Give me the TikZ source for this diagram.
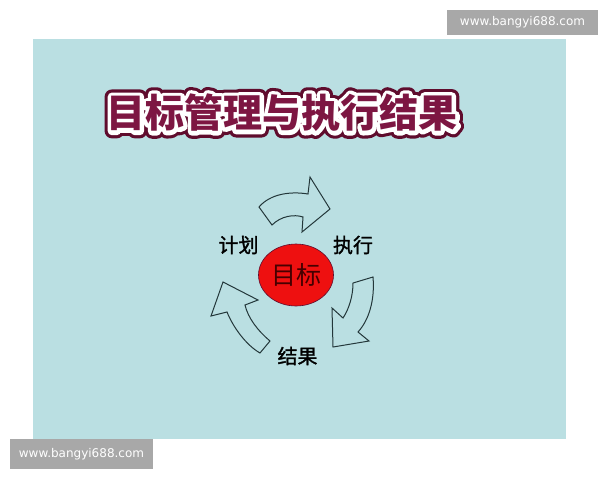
\documentclass[tikz,border=0pt]{standalone}
\usepackage{fontspec}
\usetikzlibrary{shapes.geometric,calc}
\newfontfamily\cjk{Noto Sans CJK SC}
\newfontfamily\cjklabel[FakeBold=1.5]{Noto Sans CJK SC}
\newfontfamily\cjkouter[FakeBold=38]{Noto Sans CJK SC Bold}
\newfontfamily\cjkwhite[FakeBold=22]{Noto Sans CJK SC Bold}
\newfontfamily\wmfont{DejaVu Sans}
\definecolor{bgblue}{RGB}{186,223,226}
\definecolor{maroonfill}{RGB}{125,22,66}
\definecolor{maroonline}{RGB}{95,12,45}
\definecolor{wmgray}{RGB}{168,168,168}
\definecolor{arrowline}{RGB}{35,55,58}
\definecolor{redfill}{RGB}{238,16,16}
\definecolor{darktext}{RGB}{70,0,0}
\tikzset{
  titletext/.style={inner sep=0pt, font=\cjk\bfseries\fontsize{39pt}{39pt}\selectfont},
  titleouter/.style={inner sep=0pt, line join=round, font=\cjkouter\fontsize{39pt}{39pt}\selectfont},
  titlewhite/.style={inner sep=0pt, line join=round, font=\cjkwhite\fontsize{39pt}{39pt}\selectfont},
  labeltext/.style={inner sep=0pt, font=\cjklabel\fontsize{20pt}{20pt}\selectfont, text=black},
  watermark/.style={fill=wmgray, text=white, inner sep=0pt, font=\wmfont\fontsize{12pt}{12pt}\selectfont},
  blockarrow/.style={draw=arrowline, fill=bgblue, line width=1pt, line join=miter},
  centerell/.style={ellipse, draw=maroonline, line width=0.6pt, fill=redfill, minimum width=75pt, minimum height=62pt, inner sep=0pt, text=darktext, font=\cjk\fontsize{25pt}{25pt}\selectfont}
}
\begin{document}
\begin{tikzpicture}[x=1pt,y=-1pt]
\useasboundingbox (0,0) rectangle (600,480);
\fill[white] (0,0) rectangle (600,480);
% background panel
\fill[bgblue] (33,39) rectangle (566,439);
% watermarks
\node[watermark, minimum width=151pt, minimum height=25pt] (wmtop) at (522.5,22.5) {www.bangyi688.com};
\node[watermark, minimum width=143pt, minimum height=30pt] (wmbot) at (81.5,454) {www.bangyi688.com};
% title with outlines
\begin{scope}[line join=round, miter limit=1]
\node[titleouter, text=maroonline] (titleo) at (282,113) {目标管理与执行结果};
\node[titlewhite, text=white] (titlew) at (282,113) {目标管理与执行结果};
\node[titletext, text=maroonfill] (title) at (282,113) {目标管理与执行结果};
\end{scope}
% block arrows
\draw[blockarrow] (259,207) .. controls (270,194) and (290,191) .. (308,194)
  -- (310,177) -- (330,209) -- (302,232) -- (303,217)
  .. controls (294,214) and (281,216) .. (272,225) -- cycle;
\draw[blockarrow] (353,283) -- (373,277) .. controls (375,300) and (369,320) .. (358,332)
  -- (369,341) -- (333,347) -- (332,308) -- (343,318)
  .. controls (349,309) and (353,296) .. cycle;
\draw[blockarrow] (270,341) -- (260,353) .. controls (246,345) and (233,327) .. (227,312)
  -- (211,316) -- (223,282) -- (258,300) -- (245,305)
  .. controls (248,318) and (258,331) .. cycle;
% center ellipse
\node[centerell] (goal) at (296,275) {目标};
% labels
\begin{scope}[line join=round]
\node[labeltext] (plan) at (238.5,245) {计划};
\node[labeltext] (exec) at (353,245) {执行};
\node[labeltext] (result) at (297.5,356) {结果};
\end{scope}
\end{tikzpicture}
\end{document}
